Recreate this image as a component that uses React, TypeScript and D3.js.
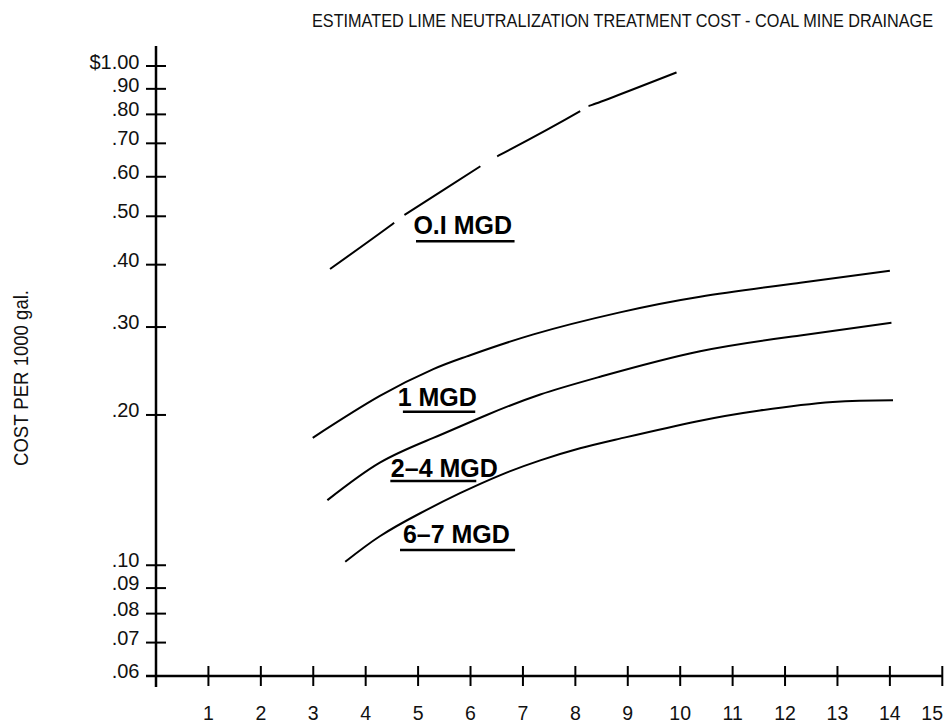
import React from "react";
import * as d3 from "d3";

const TITLE = "ESTIMATED LIME NEUTRALIZATION TREATMENT COST - COAL MINE DRAINAGE";
const Y_TITLE = "COST PER 1000 gal.";

const X_TICKS = [1, 2, 3, 4, 5, 6, 7, 8, 9, 10, 11, 12, 13, 14, 15];
const Y_TICKS = [1.0, 0.9, 0.8, 0.7, 0.6, 0.5, 0.4, 0.3, 0.2, 0.1, 0.09, 0.08, 0.07, 0.06];
const Y_TICK_LABELS = ["$1.00", ".90", ".80", ".70", ".60", ".50", ".40", ".30", ".20", ".10", ".09", ".08", ".07", ".06"];

const SERIES_NAMES = ["O.I MGD", "1 MGD", "2–4 MGD", "6–7 MGD"];

const MGD_01_X = [3.32, 4.55, 4.75, 6.2, 6.54, 8.11, 8.32, 9.93];
const MGD_01_Y = [0.392, 0.486, 0.504, 0.631, 0.662, 0.814, 0.836, 0.971];

const MGD_1_X = [2.99, 4.27, 5.29, 5.93, 7.2, 8.85, 10.38, 12.29, 14.0];
const MGD_1_Y = [0.18, 0.2183, 0.247, 0.262, 0.29, 0.321, 0.345, 0.368, 0.389];

const MGD_24_X = [3.27, 4.27, 5.29, 6.31, 7.33, 8.47, 10.38, 12.29, 14.03];
const MGD_24_Y = [0.135, 0.1605, 0.1799, 0.2, 0.2198, 0.2385, 0.2683, 0.2885, 0.3059];

const MGD_67_X = [3.61, 4.27, 5.04, 5.8, 6.56, 7.33, 8.09, 8.85, 10.31, 11.52, 12.91, 14.06];
const MGD_67_Y = [0.1016, 0.1143, 0.1271, 0.1394, 0.1514, 0.1622, 0.1715, 0.1793, 0.1941, 0.2042, 0.2123, 0.2141];

// label anchors in data units
const LABEL_X = [4.91, 4.61, 4.48, 4.71];
const LABEL_Y = [0.4607, 0.2084, 0.1502, 0.1107];
const UNDERLINE_X0 = [4.96, 4.71, 4.47, 4.655];
const UNDERLINE_X1 = [6.84, 6.09, 6.11, 6.85];
const UNDERLINE_Y = [0.4454, 0.203, 0.1475, 0.1073];

const FONT = "'Liberation Sans', Arial, Helvetica, sans-serif";

export default function App() {
  const W = 948;
  const H = 723;
  const x = d3.scaleLinear().domain([0, 15]).range([156, 942.3]);
  const y = d3.scaleLog().domain([0.06, 1]).range([676, 66]);

  const line = d3
    .line<[number, number]>()
    .x((d) => x(d[0]))
    .y((d) => y(d[1]))
    .curve(d3.curveNatural);

  const series = [
    { xs: MGD_01_X, ys: MGD_01_Y, dashed: true },
    { xs: MGD_1_X, ys: MGD_1_Y, dashed: false },
    { xs: MGD_24_X, ys: MGD_24_Y, dashed: false },
    { xs: MGD_67_X, ys: MGD_67_Y, dashed: false },
  ];

  const axisX = x(0);
  const axisY = y(0.06);

  return (
    <svg
      width={W}
      height={H}
      style={{ position: "absolute", left: 0, top: 0, background: "#fff" }}
      fontFamily={FONT}
    >
      <rect x={0} y={0} width={W} height={H} fill="#fff" />
      <text transform="translate(312,26.5) scale(1,1.15)" fontSize={16.25} fill="#111">
        {TITLE}
      </text>
      <text
        transform={`translate(28,378) rotate(-90)`}
        textAnchor="middle"
        fontSize={19.5}
        textLength={176}
        lengthAdjust="spacingAndGlyphs"
        fill="#111"
      >
        {Y_TITLE}
      </text>

      {/* axes */}
      <line x1={axisX} x2={axisX} y1={46} y2={axisY + 11} stroke="#000" strokeWidth={2.5} />
      <line x1={axisX - 10} x2={x(15)} y1={axisY} y2={axisY} stroke="#000" strokeWidth={2.5} />

      {Y_TICKS.map((v, i) => (
        <g key={"yt" + i}>
          <line x1={axisX - 10} x2={axisX + 10} y1={y(v)} y2={y(v)} stroke="#000" strokeWidth={2} />
          <text
            x={139.5}
            y={y(v) + (i < 2 ? 3 : 2)}
            textAnchor="end"
            fontSize={20}
            fill="#111"
          >
            {Y_TICK_LABELS[i]}
          </text>
        </g>
      ))}

      {X_TICKS.map((v) => {
        const atEdge = x(v) + 12 > W;
        return (
          <g key={"xt" + v}>
            <line x1={x(v)} x2={x(v)} y1={axisY - 10} y2={axisY + 10} stroke="#000" strokeWidth={2} />
            <text
              x={atEdge ? W - 5 : x(v)}
              y={720}
              textAnchor={atEdge ? "end" : "middle"}
              fontSize={19.5}
              fill="#111"
            >
              {v}
            </text>
          </g>
        );
      })}

      {/* curves */}
      {series.map((s, i) => {
        const pts = s.xs.map((xv, j) => [xv, s.ys[j]] as [number, number]);
        return (
          <path
            key={"s" + i}
            d={line(pts) || ""}
            fill="none"
            stroke="#000"
            strokeWidth={2}
            strokeDasharray={s.dashed ? "79 14 90 20 94 12 200" : undefined}
          />
        );
      })}

      {/* labels */}
      {SERIES_NAMES.map((name, i) => (
        <g key={"lbl" + i}>
          <text x={x(LABEL_X[i])} y={y(LABEL_Y[i])} fontSize={25} fontWeight="bold" fill="#000">
            {name}
          </text>
          <line
            x1={x(UNDERLINE_X0[i])}
            x2={x(UNDERLINE_X1[i])}
            y1={y(UNDERLINE_Y[i])}
            y2={y(UNDERLINE_Y[i])}
            stroke="#000"
            strokeWidth={2.5}
          />
        </g>
      ))}
    </svg>
  );
}
